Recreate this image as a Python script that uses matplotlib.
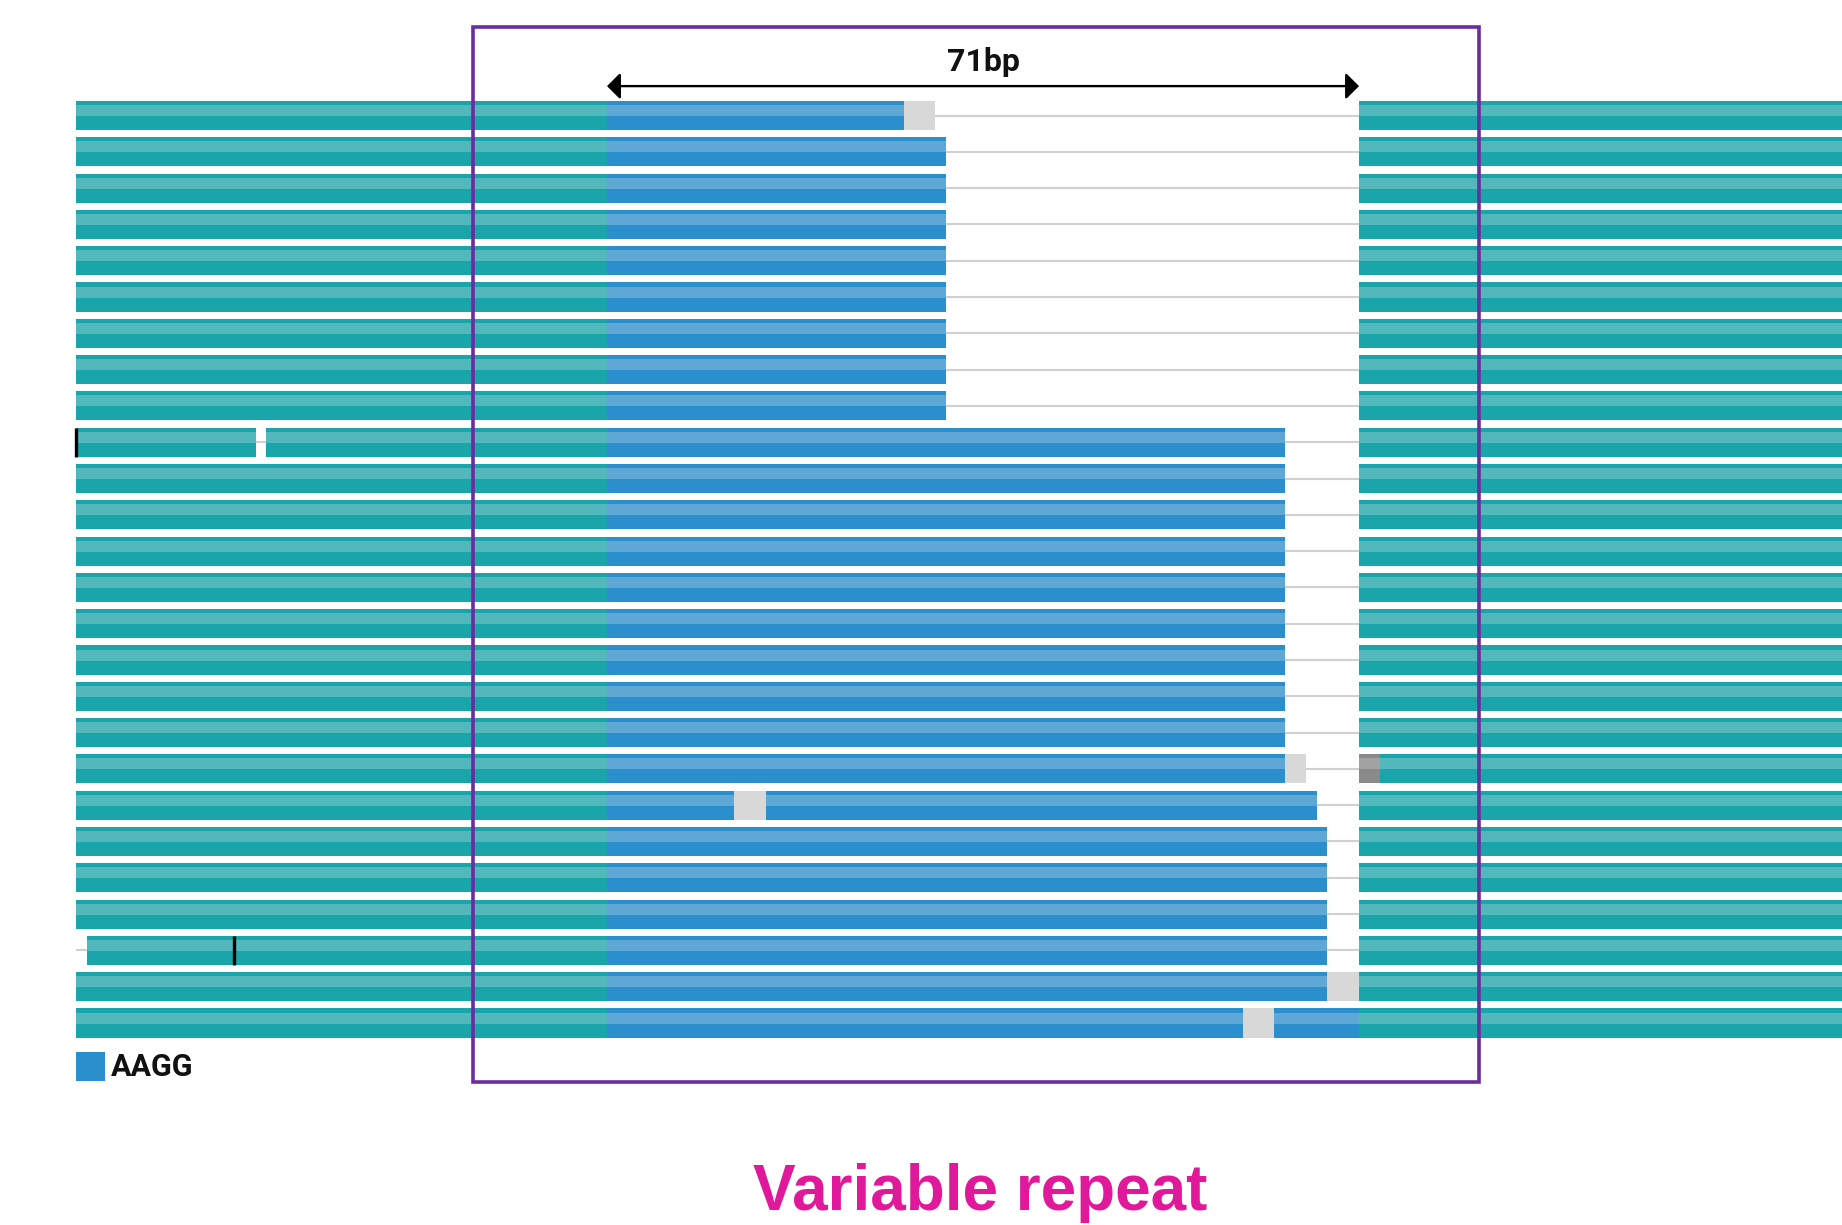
import numpy as np
import matplotlib
matplotlib.use("Agg")
import matplotlib.pyplot as plt
from matplotlib.patches import Rectangle

# read pileup around a variable AAGG repeat, x in bp relative to repeat start
repeat_len = 71
rows = np.arange(26)
read_start = [-50.1, -50.1, -50.1, -50.1, -50.1, -50.1, -50.1, -50.1, -50.1, -50.1,
              -50.1, -50.1, -50.1, -50.1, -50.1, -50.1, -50.1, -50.1, -50.1, -50.1,
              -50.1, -50.1, -50.1, -49.1, -50.1, -50.1]
repeat_end = [28, 32, 32, 32, 32, 32, 32, 32, 32, 64, 64, 64, 64, 64, 64, 64, 64, 64,
              64, 67, 68, 68, 68, 68, 68, 71]

# soft-clipped / unmatched bases (light gray)
clip_rows = [0, 18, 19, 24, 25]
clip_start = [28, 64, 12, 68, 60]
clip_end = [31, 66, 15, 71, 63]

# mismatch block (dark gray)
mm_rows = [18]
mm_start = [71]
mm_end = [73]

# deletions and insertion markers in the left flank
del_rows = [9]
del_start = [-33.1]
del_end = [-32.2]
ins_rows = [9, 23]
ins_pos = [-50.1, -35.2]

box_x = [-12.65, 82.3]
box_y = [-2.44, 26.62]

teal_dark, teal_light = '#19A5A9', '#53B8BB'
blue_dark, blue_light = '#2B8FCE', '#5FA8D6'
clip_col = '#D8D8D8'
mm_dark, mm_light = '#8A8A8A', '#A2A2A2'
line_col = '#D0D0D0'
purple = '#6A2DA0'
magenta = '#E0199A'

H = 0.8  # read height in row units


def seg(ax, row, x0, x1, dark, light, z=3):
    ax.barh(row, x1 - x0, left=x0, height=H, color=dark, linewidth=0, zorder=z)
    ax.barh(row - 0.136, x1 - x0, left=x0, height=0.304, color=light, linewidth=0, zorder=z + 0.1)


fig = plt.figure(figsize=(18.42, 12.25), dpi=100)
ax = fig.add_axes([0, 0, 1, 1])
ax.set_xlim(-57.31, 116.6)
ax.set_ylim(30.565, -3.182)
ax.axis('off')

# connecting lines behind the reads
ax.hlines(rows, min(read_start), repeat_len, color=line_col, lw=1.5, zorder=1)

for r in rows:
    seg(ax, r, read_start[r], 0, teal_dark, teal_light)
    seg(ax, r, 0, repeat_end[r], blue_dark, blue_light)
    seg(ax, r, repeat_len, 125, teal_dark, teal_light)

for r, a, b in zip(clip_rows, clip_start, clip_end):
    ax.barh(r, b - a, left=a, height=H, color=clip_col, linewidth=0, zorder=5)

for r, a, b in zip(mm_rows, mm_start, mm_end):
    seg(ax, r, a, b, mm_dark, mm_light, z=5)

for r, a, b in zip(del_rows, del_start, del_end):
    ax.barh(r, b - a, left=a, height=H, color='white', linewidth=0, zorder=5)
    ax.hlines(r, a, b, color=line_col, lw=1.5, zorder=6)

ax.vlines(ins_pos, np.array(ins_rows) - H / 2, np.array(ins_rows) + H / 2,
          color='black', lw=2.4, zorder=7)

# highlight box
ax.add_patch(Rectangle((box_x[0], box_y[0]), box_x[1] - box_x[0], box_y[1] - box_y[0],
                       fill=False, edgecolor=purple, lw=2.6, zorder=8))

# 71bp span arrow
ax.annotate('', xy=(repeat_len, -0.81), xytext=(0, -0.81),
            arrowprops=dict(arrowstyle='<|-|>,head_length=0.4,head_width=0.4',
                            color='black', lw=1.7, shrinkA=0, shrinkB=0,
                            mutation_scale=20), zorder=9)
ax.text(repeat_len / 2, -1.47, f'{repeat_len}bp', ha='center', va='center',
        fontsize=23, fontweight='bold', family='Roboto', color='#111111')

# legend
ax.add_patch(Rectangle((-50.1, 25.8), 2.75, 0.8, color=blue_dark, linewidth=0))
ax.text(-46.85, 26.22, 'AAGG', ha='left', va='center', fontsize=22,
        fontweight='bold', family='Roboto', color='#111111')

fig.text(0.532, 0.026, 'Variable repeat', ha='center', va='center', fontsize=46,
         fontweight='bold', family='Liberation Sans', color=magenta)

fig.savefig('out.png', dpi=100)
